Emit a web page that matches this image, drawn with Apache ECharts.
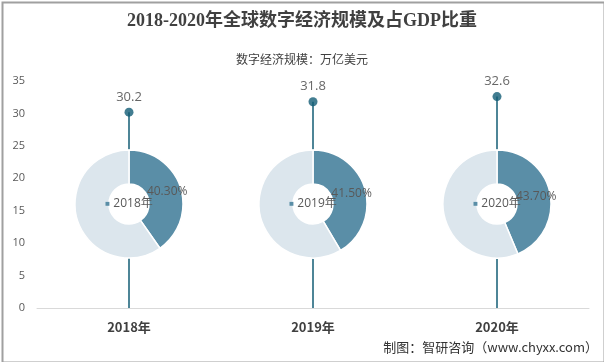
<!DOCTYPE html>
<html>
<head>
<meta charset="utf-8">
<script src="https://cdn.jsdelivr.net/npm/echarts@6/dist/echarts.min.js"></script>
<style>
html,body{margin:0;padding:0;background:#fff;}
#c{width:604px;height:362px;}
</style>
</head>
<body>
<div id="c"></div>
<script>
var categories = ['2018年', '2019年', '2020年'];
var scaleValues = [30.2, 31.8, 32.6];
var gdpShares = [40.3, 41.5, 43.7];
var yTicks = [0, 5, 10, 15, 20, 25, 30, 35];

var chart = echarts.init(document.getElementById('c'));
var dark = '#135c75';
var pieDark = '#5a8ea7';
var pieLight = '#dce6ed';

function buildOption(centers) {
  var series = [
    {
      type: 'bar',
      data: scaleValues,
      barWidth: 1.5,
      itemStyle: { color: dark },
      z: 1,
      silent: true
    },
    {
      type: 'scatter',
      data: scaleValues,
      symbolSize: 9,
      itemStyle: { color: dark },
      label: {
        show: true, position: 'top', distance: 4,
        color: '#404040', fontSize: 13, fontFamily: 'Open Sans, Noto Sans, sans-serif',
        formatter: function (p) { return p.value.toFixed(1); }
      },
      z: 3
    }
  ];
  categories.forEach(function (cat, i) {
    series.push({
      type: 'pie',
      center: [centers[i], 204],
      radius: [0, 20],
      z: 4,
      silent: true,
      label: { show: false },
      labelLine: { show: false },
      data: [{ value: 1, name: 'hole', itemStyle: { color: '#ffffff' } }]
    });
    series.push({
      type: 'pie',
      center: [centers[i], 204],
      radius: [20, 54],
      startAngle: 90,
      clockwise: true,
      avoidLabelOverlap: false,
      labelLayout: { hideOverlap: false },
      z: 5,
      silent: true,
      labelLine: { show: false },
      itemStyle: { borderColor: '#fff', borderWidth: 1.5 },
      data: [
        {
          value: gdpShares[i], name: cat,
          itemStyle: { color: pieDark },
          label: {
            show: true, position: 'inside',
            color: '#595959', fontSize: 12, fontFamily: 'Open Sans, Noto Sans, sans-serif',
            formatter: gdpShares[i].toFixed(2) + '%'
          }
        },
        {
          value: 100 - gdpShares[i], name: 'rest',
          itemStyle: { color: pieLight },
          label: {
            show: true, position: 'center',
            formatter: '{m|■} {t|' + cat + '}',
            rich: {
              m: { color: pieDark, fontSize: 8 },
              t: { color: '#595959', fontSize: 12, fontFamily: 'Open Sans, Noto Sans CJK SC, sans-serif' }
            }
          }
        }
      ]
    });
  });
  return {
    animation: false,
    backgroundColor: '#fff',
    title: [
      {
        text: '2018-2020年全球数字经济规模及占GDP比重',
        left: 'center', top: 7,
        textStyle: { fontSize: 18, fontWeight: 'bold', color: '#404040', fontFamily: 'Liberation Serif, Noto Sans CJK SC, serif' }
      },
      {
        text: '数字经济规模：万亿美元',
        left: 'center', top: 48,
        textStyle: { fontSize: 12, fontWeight: 'normal', color: '#404040', fontFamily: 'Noto Sans CJK SC, sans-serif' }
      }
    ],
    grid: { left: 37, right: 15, top: 81, bottom: 54 },
    xAxis: {
      type: 'category',
      data: categories,
      axisLine: { lineStyle: { color: '#d9d9d9' } },
      axisTick: { show: false },
      axisLabel: { color: '#404040', fontSize: 13, fontWeight: 'bold', margin: 13, fontFamily: 'Noto Sans CJK SC, sans-serif' }
    },
    yAxis: {
      type: 'value',
      min: yTicks[0], max: yTicks[yTicks.length - 1], interval: 5,
      axisLine: { show: false },
      axisTick: { show: false },
      splitLine: { show: false },
      axisLabel: { color: '#595959', fontSize: 11, margin: 12, fontFamily: 'Open Sans, sans-serif' }
    },
    graphic: [
      {
        type: 'rect', left: 0, top: 0, z: 100, silent: true,
        shape: { x: 1, y: 1, width: 602, height: 360 },
        style: { fill: 'none', stroke: '#a0a0a0', lineWidth: 2 }
      },
      {
        type: 'text', right: 6, top: 341, z: 100,
        style: { text: '制图：智研咨询（www.chyxx.com）', fill: '#333', fontSize: 13, fontFamily: 'Noto Sans CJK SC, sans-serif' }
      }
    ],
    series: series
  };
}

chart.setOption(buildOption(['21.4%', '51.8%', '82.3%']));
var centers = categories.map(function (c) { return chart.convertToPixel({ xAxisIndex: 0 }, c); });
chart.setOption(buildOption(centers), true);
</script>
</body>
</html>
